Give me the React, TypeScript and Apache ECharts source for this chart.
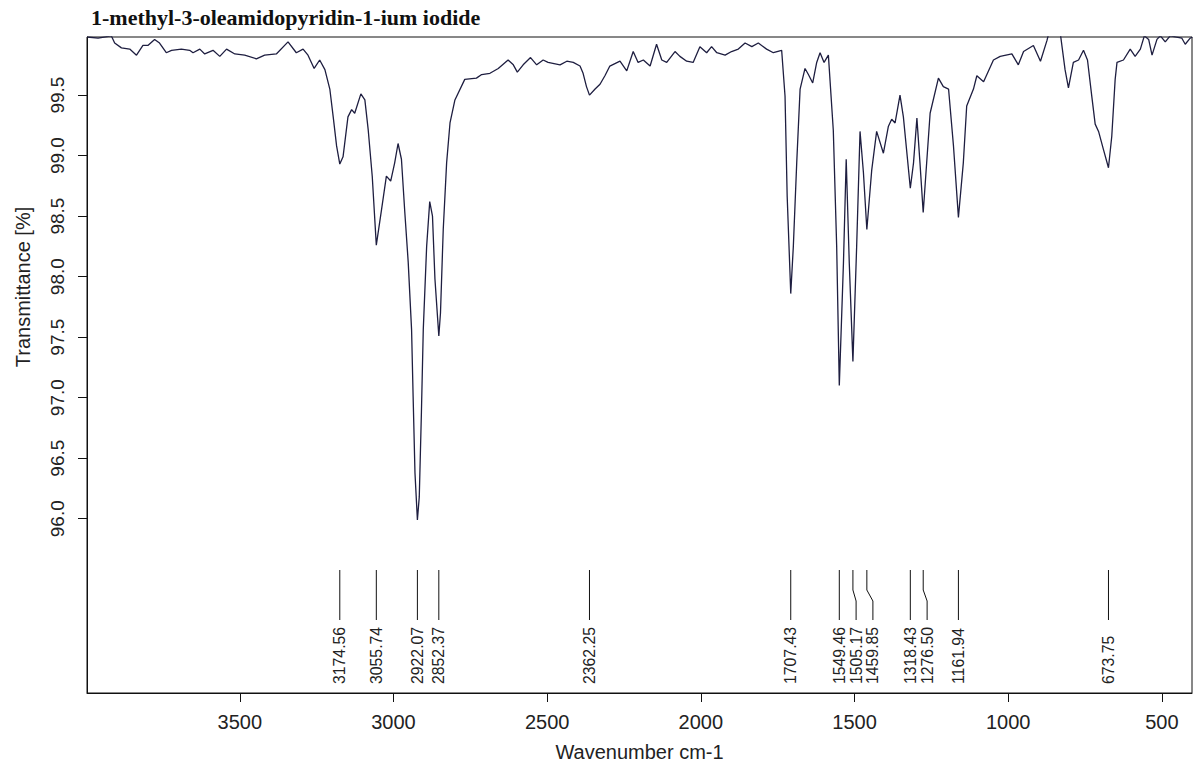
import React, { useEffect, useRef } from "react";
import * as echarts from "echarts";

const titleText = "1-methyl-3-oleamidopyridin-1-ium iodide";
const xAxisTitle = "Wavenumber cm-1";
const yAxisTitle = "Transmittance [%]";

const wavenumber = [
  3996, 3961, 3918, 3907, 3885, 3858, 3836, 3815, 3799, 3777, 3761, 3739, 3722, 3690, 3663, 3652, 3630, 3614,
  3587, 3565, 3543, 3516, 3484, 3446, 3419, 3381, 3343, 3316, 3294, 3278, 3258, 3240, 3223, 3207, 3196, 3185,
  3174.56, 3164, 3148, 3136, 3126, 3106, 3093, 3082, 3069, 3055.74, 3039, 3023, 3009, 2996, 2985, 2974, 2963,
  2952, 2941, 2936, 2930, 2922.07, 2916, 2909, 2903, 2892, 2882, 2873, 2865, 2852.37, 2847, 2838, 2827, 2816,
  2800, 2768, 2730, 2713, 2686, 2659, 2627, 2610, 2597, 2578, 2554, 2534, 2513, 2497, 2458, 2436, 2415, 2393,
  2383, 2372, 2362.25, 2344, 2328, 2312, 2296, 2263, 2241, 2220, 2204, 2187, 2165, 2144, 2127, 2111, 2084,
  2068, 2046, 2025, 2003, 1981, 1965, 1948, 1921, 1900, 1878, 1856, 1834, 1813, 1786, 1764, 1737, 1726, 1719,
  1707.43, 1699, 1688, 1677, 1661, 1650, 1636, 1623, 1612, 1599, 1585, 1569, 1558, 1549.46, 1536, 1527, 1517,
  1505.17, 1493, 1482, 1471, 1459.85, 1444, 1428, 1406, 1390, 1379, 1368, 1352, 1341, 1318.43, 1308, 1297,
  1287, 1276.5, 1254, 1227, 1211, 1194, 1178, 1161.94, 1146, 1135, 1113, 1102, 1080, 1048, 1026, 988, 967,
  950, 918, 895, 874, 867, 831, 815, 804, 788, 771, 755, 742, 728, 717, 706, 690, 673.75, 663, 652, 646, 625,
  603, 587, 570, 557, 543, 532, 516, 505, 489, 473, 435, 424, 408, 401,
];

const transmittance = [
  99.98, 99.97, 99.99, 99.93, 99.89, 99.88, 99.83, 99.91, 99.91, 99.96, 99.93, 99.85, 99.87, 99.88, 99.87, 99.85,
  99.88, 99.84, 99.87, 99.82, 99.88, 99.84, 99.83, 99.8, 99.83, 99.84, 99.94, 99.85, 99.88, 99.83, 99.72, 99.79,
  99.71, 99.55, 99.32, 99.08, 98.93, 98.99, 99.32, 99.38, 99.35, 99.51, 99.46, 99.21, 98.83, 98.26, 98.55, 98.83,
  98.79, 98.94, 99.1, 98.97, 98.53, 98.12, 97.56, 97.01, 96.38, 95.99, 96.18, 96.88, 97.56, 98.25, 98.62, 98.5,
  97.98, 97.51, 97.7, 98.39, 98.94, 99.27, 99.46, 99.63, 99.64, 99.67, 99.68, 99.72, 99.79, 99.75, 99.69, 99.75,
  99.81, 99.75, 99.79, 99.77, 99.75, 99.78, 99.77, 99.74, 99.68, 99.57, 99.5, 99.55, 99.59, 99.66, 99.74, 99.78,
  99.7, 99.86, 99.77, 99.79, 99.74, 99.92, 99.79, 99.77, 99.86, 99.82, 99.78, 99.77, 99.9, 99.85, 99.9, 99.85,
  99.83, 99.86, 99.88, 99.93, 99.9, 99.93, 99.88, 99.85, 99.87, 99.49, 98.66, 97.86, 98.25, 98.94, 99.55, 99.72,
  99.67, 99.6, 99.77, 99.85, 99.77, 99.83, 99.21, 98.25, 97.1, 98.11, 98.97, 98.11, 97.3, 98.25, 99.2, 98.86,
  98.39, 98.88, 99.2, 99.02, 99.24, 99.3, 99.27, 99.5, 99.32, 98.73, 98.94, 99.31, 98.94, 98.53, 99.35, 99.64,
  99.57, 99.55, 99.08, 98.49, 98.94, 99.41, 99.55, 99.66, 99.61, 99.79, 99.82, 99.84, 99.75, 99.86, 99.91, 99.78,
  99.95, 100.02, 100.02, 99.71, 99.56, 99.77, 99.79, 99.87, 99.79, 99.49, 99.26, 99.2, 99.05, 98.9, 99.16, 99.63,
  99.77, 99.79, 99.88, 99.82, 99.88, 99.99, 99.96, 99.83, 99.96, 99.99, 99.94, 99.99, 99.97, 99.92, 99.97, 99.98,
];

const peakPositions = [
  3174.56, 3055.74, 2922.07, 2852.37, 2362.25, 1707.43, 1549.46, 1505.17, 1459.85, 1318.43, 1276.5, 1161.94, 673.75,
];

const xTicks = [3500, 3000, 2500, 2000, 1500, 1000, 500];
const yTicks = [96.0, 96.5, 97.0, 97.5, 98.0, 98.5, 99.0, 99.5];
const xRange = [402, 3997];
const yRange = [94.56, 99.98];

const SANS = "'Liberation Sans', Arial, Helvetica, sans-serif";
const SERIF = "'Liberation Serif', 'Times New Roman', serif";

export default function App() {
  const ref = useRef<HTMLDivElement>(null);

  useEffect(() => {
    if (!ref.current) return;
    const chart = echarts.init(ref.current, null, { renderer: "svg" });
    const spectrum = wavenumber.map((w, i) => [w, transmittance[i]]);

    const renderPeak = (params: any, api: any) => {
      const idx = params.dataIndex;
      const xs = peakPositions.map((p) => api.coord([p, yRange[0]])[0]);
      const bottomY = api.coord([peakPositions[idx], yRange[0]])[1];
      const order = xs.map((_, i) => i).sort((a, b) => xs[a] - xs[b]);
      const lab = xs.slice();
      const gap = 16.8;
      let prev = -Infinity;
      for (const i of order) {
        const x = Math.max(xs[i], prev + gap);
        lab[i] = x;
        prev = x;
      }
      const px = xs[idx];
      const lx = lab[idx];
      const top = bottomY - 123;
      const points =
        Math.abs(lx - px) < 0.01
          ? [
              [px, top],
              [px, bottomY - 73],
            ]
          : [
              [px, top],
              [px, bottomY - 103],
              [lx, bottomY - 92],
              [lx, bottomY - 73],
            ];
      return {
        type: "group",
        children: [
          { type: "polyline", shape: { points }, style: { stroke: "#111", lineWidth: 1, fill: "none" } },
          {
            type: "text",
            x: lx,
            y: bottomY - 9,
            rotation: Math.PI / 2,
            style: {
              text: peakPositions[idx].toFixed(2),
              fill: "#222",
              fontSize: 15.8,
              fontFamily: SANS,
              align: "left",
              verticalAlign: "middle",
            },
          },
        ],
      };
    };

    chart.setOption({
      animation: false,
      backgroundColor: "#ffffff",
      title: {
        text: titleText,
        left: 91,
        top: 6,
        padding: 0,
        textStyle: { fontFamily: SERIF, fontWeight: "bold", fontSize: 22, color: "#111" },
      },
      grid: {
        left: 87,
        right: 6,
        top: 37,
        bottom: 82,
        show: true,
        borderColor: "#111",
        borderWidth: 1,
        backgroundColor: "transparent",
      },
      xAxis: {
        type: "value",
        inverse: true,
        min: xRange[0],
        max: xRange[1],
        name: xAxisTitle,
        nameLocation: "middle",
        nameGap: 49,
        nameTextStyle: { fontFamily: SANS, fontSize: 20, color: "#222" },
        axisLine: { show: true, onZero: false, lineStyle: { color: "#111", width: 1 } },
        axisTick: { show: true, length: 9, customValues: xTicks, lineStyle: { color: "#111" } },
        axisLabel: {
          customValues: xTicks,
          margin: 19,
          fontSize: 20,
          color: "#222",
          fontFamily: SANS,
          formatter: (v: number) => String(v),
        },
        splitLine: { show: false },
      },
      yAxis: {
        type: "value",
        min: yRange[0],
        max: yRange[1],
        axisLine: { show: true, onZero: false, lineStyle: { color: "#111", width: 1 } },
        axisTick: { show: true, length: 9, customValues: yTicks, lineStyle: { color: "#111" } },
        axisLabel: {
          customValues: yTicks,
          rotate: 90,
          margin: 20,
          fontSize: 19,
          color: "#222",
          fontFamily: SANS,
          formatter: (v: number) => v.toFixed(1),
        },
        splitLine: { show: false },
      },
      graphic: [
        {
          type: "text",
          x: 23,
          y: 287,
          rotation: Math.PI / 2,
          style: {
            text: yAxisTitle,
            fill: "#222",
            fontSize: 20,
            fontFamily: SANS,
            align: "center",
            verticalAlign: "middle",
          },
        },
      ],
      series: [
        {
          type: "line",
          data: spectrum,
          symbol: "none",
          showSymbol: false,
          clip: true,
          silent: true,
          lineStyle: { color: "#1e1e40", width: 1.3 },
        },
        {
          type: "custom",
          data: peakPositions.map((p) => [p, yRange[0]]),
          renderItem: renderPeak,
          clip: false,
          silent: true,
        },
      ],
    });

    return () => chart.dispose();
  }, []);

  return (
    <div
      ref={ref}
      style={{ position: "fixed", left: 0, top: 0, width: 1198, height: 775, background: "#fff" }}
    />
  );
}
